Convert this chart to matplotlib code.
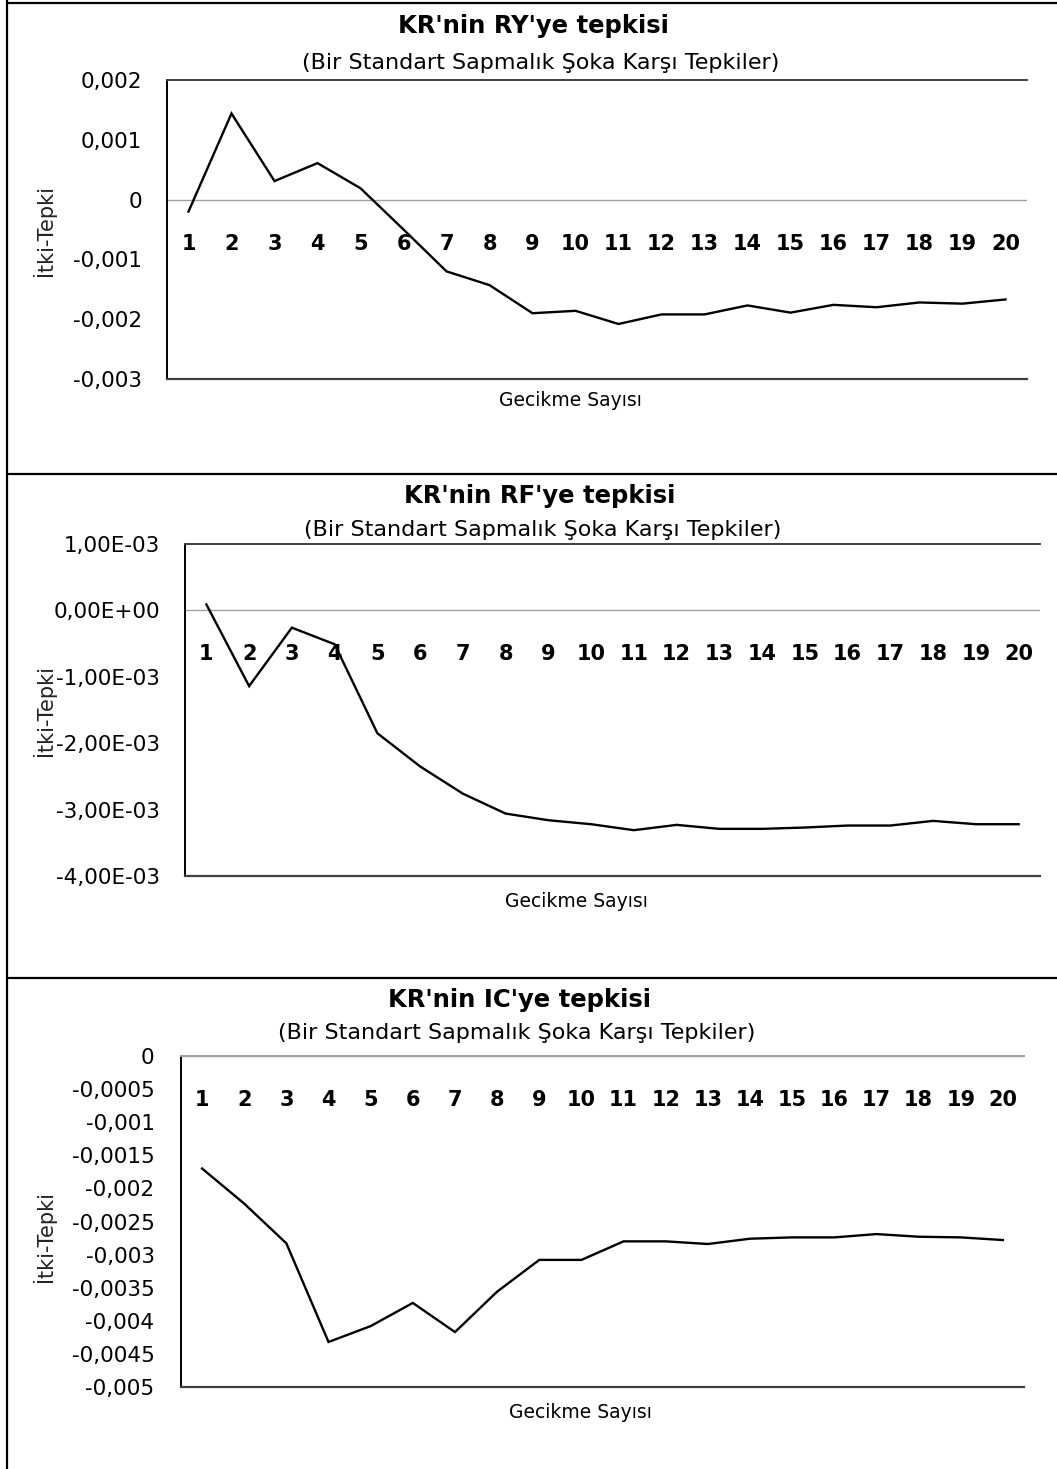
import matplotlib
matplotlib.use("Agg")
import matplotlib.pyplot as plt
from matplotlib.lines import Line2D

W, H = 1057, 1469
DPI = 100

# ---------------- data ----------------
lags = list(range(1, 21))

ry_resp = [-0.00020, 0.00144, 0.00031, 0.00061, 0.00019, -0.00050, -0.00120, -0.00143,
           -0.00190, -0.00186, -0.00208, -0.00192, -0.00192, -0.00177, -0.00189, -0.00176,
           -0.00180, -0.00172, -0.00174, -0.00167]
rf_resp = [0.00009, -0.00114, -0.00026, -0.00051, -0.00185, -0.00235, -0.00276, -0.00306,
           -0.00316, -0.00322, -0.00331, -0.00323, -0.00329, -0.00329, -0.00327, -0.00324,
           -0.00324, -0.00317, -0.00322, -0.00322]
ic_resp = [-0.00170, -0.00223, -0.00283, -0.00432, -0.00408, -0.00373, -0.00417, -0.00356,
           -0.00308, -0.00308, -0.00280, -0.00280, -0.00284, -0.00276, -0.00274, -0.00274,
           -0.00269, -0.00273, -0.00274, -0.00278]

ry_ticks = [0.002, 0.001, 0.0, -0.001, -0.002, -0.003]
ry_ticklabels = ["0,002", "0,001", "0", "-0,001", "-0,002", "-0,003"]
rf_ticks = [0.001, 0.0, -0.001, -0.002, -0.003, -0.004]
rf_ticklabels = ["1,00E-03", "0,00E+00", "-1,00E-03", "-2,00E-03", "-3,00E-03", "-4,00E-03"]
ic_ticks = [0.0, -0.0005, -0.001, -0.0015, -0.002, -0.0025, -0.003, -0.0035, -0.004, -0.0045, -0.005]
ic_ticklabels = ["0", "-0,0005", "-0,001", "-0,0015", "-0,002", "-0,0025", "-0,003",
                 "-0,0035", "-0,004", "-0,0045", "-0,005"]

titles = ["KR'nin RY'ye tepkisi", "KR'nin RF'ye tepkisi", "KR'nin IC'ye tepkisi"]
subtitle = "(Bir Standart Sapmalık Şoka Karşı Tepkiler)"
ylabel = "İtki-Tepki"
xlabel = "Gecikme Sayısı"

# ---------------- layout (pixels) ----------------
panels = [
    dict(y=ry_resp, ticks=ry_ticks, labels=ry_ticklabels, box=(167, 80, 1027, 379),
         title=(533, 26), sub=(541, 63), ylab=(44, 230), xlab=(570, 401), pad=18, topc="#404040"),
    dict(y=rf_resp, ticks=rf_ticks, labels=rf_ticklabels, box=(185, 544, 1040, 876),
         title=(540, 496), sub=(543, 530), ylab=(44, 711), xlab=(576, 902), pad=18, topc="#404040"),
    dict(y=ic_resp, ticks=ic_ticks, labels=ic_ticklabels, box=(181, 1056, 1024, 1387),
         title=(520, 1000), sub=(517, 1033), ylab=(44, 1237), xlab=(580, 1412), pad=19, topc="#a0a0a0"),
]

plt.rcParams['font.family'] = ['DejaVu Sans']
fig = plt.figure(figsize=(W / DPI, H / DPI), dpi=DPI)

def fx(x):
    return x / W

def fy(y):
    return 1 - y / H

for i, p in enumerate(panels):
    x0, y0, x1, y1 = p["box"]
    ax = fig.add_axes([fx(x0), fy(y1), (x1 - x0) / W, (y1 - y0) / H])
    ax.plot(lags, p["y"], color="black", lw=1.7, solid_joinstyle="miter")
    ax.axhline(0, color="#a0a0a0", lw=1.0, zorder=1)
    ax.set_xlim(0.5, 20.5)
    ax.set_ylim(min(p["ticks"]), max(p["ticks"]))
    ax.set_yticks(p["ticks"])
    ax.set_yticklabels(p["labels"], fontsize=15.5)
    ax.set_xticks([])
    ax.tick_params(axis="y", length=0, pad=p["pad"])
    ax.spines["right"].set_visible(False)
    ax.spines["left"].set_color("black")
    ax.spines["left"].set_linewidth(1.4)
    ax.spines["top"].set_color(p["topc"])
    ax.spines["top"].set_linewidth(1.4)
    ax.spines["bottom"].set_color("#404040")
    ax.spines["bottom"].set_linewidth(1.6)
    for c in lags:
        ax.annotate(str(c), (c, 0), xytext=(0, -44 * 72 / DPI), textcoords="offset points",
                    ha="center", va="center", fontsize=15, fontweight="bold",
                    annotation_clip=False)
    fig.text(fx(p["title"][0]), fy(p["title"][1]), titles[i], ha="center", va="center",
             fontsize=17.5, fontweight="bold")
    fig.text(fx(p["sub"][0]), fy(p["sub"][1]), subtitle, ha="center", va="center",
             fontsize=16)
    fig.text(fx(p["ylab"][0]), fy(p["ylab"][1]), ylabel, ha="center", va="center",
             rotation=90, fontsize=15, color="#222222")
    fig.text(fx(p["xlab"][0]), fy(p["xlab"][1]), xlabel, ha="center", va="center",
             fontsize=13.5)

# panel borders
border = dict(color="black", lw=1.6, transform=fig.transFigure, solid_capstyle="butt")
fig.add_artist(Line2D([fx(6.5), fx(6.5)], [0, 1], **border))
for yy in (3, 474, 978):
    fig.add_artist(Line2D([fx(6), 1], [fy(yy), fy(yy)], **border))

fig.savefig("out.png", dpi=DPI)
